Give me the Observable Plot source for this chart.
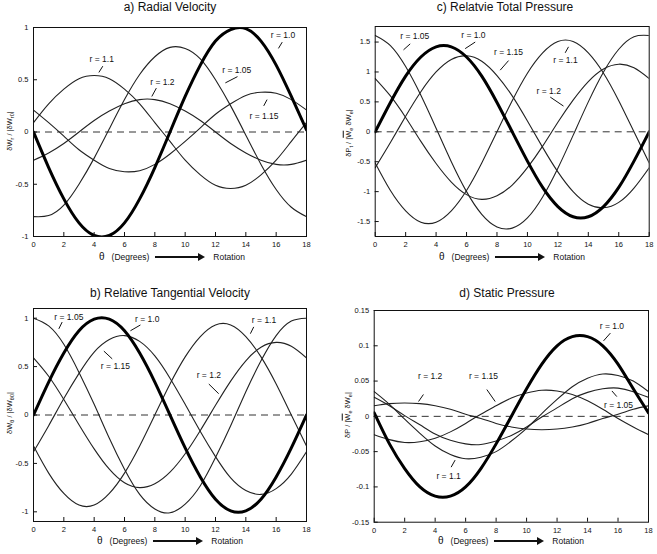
<!DOCTYPE html>
<html><head><meta charset="utf-8">
<script src="https://cdn.jsdelivr.net/npm/d3@7"></script>
<script src="https://cdn.jsdelivr.net/npm/@observablehq/plot@0.6"></script>
<style>
body{margin:0;background:#fff;}
#root{position:relative;width:657px;height:554px;font-family:"Liberation Sans",Arial,Helvetica,sans-serif;color:#111;overflow:hidden;background:#fff}
.title{position:absolute;font-size:12px;line-height:14px;white-space:nowrap;transform:translateX(-50%)}
.xlab{position:absolute;font-size:8.5px;line-height:10px;display:flex;align-items:center;transform:translate(-50%,-50%);white-space:nowrap}
.xlab .th{font-size:10px;margin-right:7px}
.arrow{display:inline-block;position:relative;width:44px;height:2px;background:#111;margin:0 14px 0 6px}
.arrow::after{content:"";position:absolute;right:-6px;top:-3px;border-left:7px solid #111;border-top:4px solid transparent;border-bottom:4px solid transparent}
.ylab{position:absolute;font-size:7.5px;white-space:nowrap;transform:translate(-50%,-50%) rotate(-90deg)}
.ylab sub{font-size:5.5px}
.panel{position:absolute}
</style></head><body><div id="root"></div>
<script>
// θ (degrees) sample positions
const THETA = [0,1,2,3,4,5,6,7,8,9,10,11,12,13,14,15,16,17,18];
const X_TICKS = [0,2,4,6,8,10,12,14,16,18];
const Y_TICKS_A = [-1,-0.5,0,0.5,1];
const Y_TICKS_B = [-1,-0.5,0,0.5,1];
const Y_TICKS_C = [-1.5,-1,-0.5,0,0.5,1,1.5];
const Y_TICKS_D = [-0.15,-0.1,-0.05,0,0.05,0.1,0.15];

// a) Radial Velocity
const RV_10  = [0,-0.34,-0.64,-0.87,-0.99,-0.99,-0.87,-0.64,-0.34,0,0.34,0.64,0.87,0.98,0.99,0.87,0.64,0.34,0.02];
const RV_105 = [-0.81,-0.80,-0.70,-0.50,-0.25,0.03,0.31,0.55,0.72,0.81,0.80,0.70,0.50,0.25,-0.03,-0.31,-0.55,-0.72,-0.81];
const RV_11  = [0.09,0.27,0.41,0.51,0.54,0.51,0.41,0.27,0.09,-0.09,-0.27,-0.41,-0.51,-0.54,-0.51,-0.41,-0.27,-0.09,0.09];
const RV_115 = [0.21,0.09,-0.04,-0.17,-0.27,-0.35,-0.38,-0.37,-0.31,-0.21,-0.09,0.04,0.17,0.27,0.35,0.38,0.37,0.31,0.21];
const RV_12  = [-0.27,-0.20,-0.11,0,0.11,0.20,0.27,0.31,0.31,0.27,0.20,0.11,0,-0.11,-0.20,-0.27,-0.31,-0.31,-0.27];

// b) Relative Tangential Velocity
const TV_10  = [0,0.34,0.64,0.87,0.99,0.99,0.87,0.64,0.34,0,-0.34,-0.64,-0.87,-0.99,-0.99,-0.87,-0.64,-0.34,0];
const TV_105 = [1.00,0.92,0.73,0.44,0.11,-0.24,-0.56,-0.82,-0.97,-1.01,-0.92,-0.73,-0.44,-0.11,0.24,0.56,0.82,0.97,1.00];
const TV_11  = [-0.32,-0.60,-0.81,-0.93,-0.93,-0.81,-0.60,-0.32,0,0.32,0.60,0.81,0.93,0.93,0.81,0.60,0.32,0,-0.32];
const TV_115 = [-0.38,-0.11,0.17,0.43,0.65,0.78,0.82,0.76,0.61,0.38,0.11,-0.17,-0.43,-0.65,-0.78,-0.82,-0.76,-0.61,-0.38];
const TV_12  = [0.59,0.40,0.16,-0.10,-0.35,-0.56,-0.70,-0.75,-0.71,-0.59,-0.40,-0.16,0.10,0.35,0.56,0.70,0.75,0.71,0.59];

// c) Relative Total Pressure
const PT_10  = [0,0.49,0.93,1.25,1.42,1.42,1.25,0.93,0.49,0,-0.49,-0.93,-1.25,-1.42,-1.42,-1.25,-0.93,-0.49,0];
const PT_105 = [1.61,1.44,1.09,0.61,0.06,-0.50,-1.00,-1.38,-1.59,-1.61,-1.44,-1.09,-0.61,-0.06,0.50,1.00,1.38,1.59,1.61];
const PT_11  = [-0.52,-0.98,-1.32,-1.51,-1.51,-1.32,-0.98,-0.52,0,0.52,0.98,1.32,1.51,1.51,1.32,0.98,0.52,0,-0.52];
const PT_115 = [-0.60,-0.18,0.26,0.67,1.00,1.21,1.27,1.18,0.94,0.60,0.18,-0.26,-0.67,-1.00,-1.21,-1.27,-1.18,-0.94,-0.60];
const PT_12  = [0.89,0.60,0.24,-0.16,-0.53,-0.84,-1.05,-1.13,-1.07,-0.89,-0.60,-0.24,0.16,0.53,0.84,1.05,1.13,1.07,0.89];

// d) Static Pressure
const PS_10  = [0.005,-0.039,-0.074,-0.100,-0.113,-0.113,-0.100,-0.074,-0.039,0,0.039,0.074,0.100,0.113,0.113,0.100,0.074,0.039,0.005];
const PS_105 = [0.027,0.015,0.001,-0.012,-0.025,-0.034,-0.039,-0.040,-0.035,-0.027,-0.015,-0.001,0.012,0.025,0.034,0.039,0.040,0.035,0.027];
const PS_11  = [0.035,0.017,-0.004,-0.024,-0.042,-0.054,-0.060,-0.058,-0.050,-0.035,-0.017,0.004,0.024,0.042,0.054,0.060,0.058,0.050,0.035];
const PS_115 = [-0.026,-0.033,-0.037,-0.036,-0.031,-0.022,-0.010,0.003,0.015,0.026,0.033,0.037,0.036,0.031,0.022,0.010,-0.003,-0.015,-0.026];
const PS_12  = [0.015,0.018,0.019,0.018,0.015,0.010,0.003,-0.003,-0.010,-0.015,-0.018,-0.019,-0.018,-0.015,-0.010,-0.003,0.003,0.010,0.015];

// curve labels (text position and pointer line, in data units)
const NOTES_A = [
 {r:"1.1",  tx:4.5,  ty:0.70, px1:4.57, py1:0.63, px2:4.31, py2:0.57},
 {r:"1.2",  tx:8.5,  ty:0.48, px1:8.1,  py1:0.42, px2:7.8,  py2:0.34},
 {r:"1.05", tx:13.4, ty:0.59, px1:13.45,py1:0.53, px2:12.65,py2:0.47},
 {r:"1.0",  tx:16.45,ty:0.93, px1:16.4, py1:0.86, px2:16.15,py2:0.80},
 {r:"1.15", tx:15.2, ty:0.15, px1:15.4, py1:0.31, px2:15.18,py2:0.25}
];
const NOTES_B = [
 {r:"1.05", tx:2.33, ty:1.01, px1:1.89, py1:0.96, px2:1.67, py2:0.89},
 {r:"1.0",  tx:7.5,  ty:0.99, px1:7.05, py1:0.93, px2:6.39, py2:0.87},
 {r:"1.15", tx:5.4,  ty:0.50, px1:5.19, py1:0.58, px2:4.64, py2:0.66},
 {r:"1.1",  tx:15.2, ty:0.98, px1:14.52,py1:0.91, px2:14.3, py2:0.84},
 {r:"1.2",  tx:11.56,ty:0.41, px1:11.56,py1:0.32, px2:12.21,py2:0.22}
];
const NOTES_C = [
 {r:"1.05", tx:2.6,  ty:1.59, px1:2.3,  py1:1.47, px2:1.86, py2:1.37},
 {r:"1.0",  tx:6.45, ty:1.62, px1:6.57, py1:1.50, px2:5.91, py2:1.39},
 {r:"1.15", tx:8.76, ty:1.33, px1:8.76, py1:1.19, px2:8.21, py2:1.03},
 {r:"1.1",  tx:12.5, ty:1.19, px1:12.7, py1:1.42, px2:12.48,py2:1.32},
 {r:"1.2",  tx:11.4, ty:0.68, px1:11.5, py1:0.58, px2:12.37,py2:0.43}
];
const NOTES_D = [
 {r:"1.2",  tx:3.67, ty:0.057, px1:3.23, py1:0.031, px2:2.91, py2:0.021},
 {r:"1.15", tx:7.17, ty:0.057, px1:7.39, py1:0.038, px2:7.94, py2:0.021},
 {r:"1.0",  tx:15.6, ty:0.127, px1:15.5, py1:0.118, px2:15.05,py2:0.107},
 {r:"1.05", tx:16.03,ty:0.016, px1:15.92,py1:0.028, px2:15.6, py2:0.036},
 {r:"1.1",  tx:4.88, ty:-0.085,px1:5.05, py1:-0.072,px2:5.31, py2:-0.062}
];

const FONT = '"Liberation Sans", Arial, Helvetica, sans-serif';

const panels = [
 {title:"a) Radial Velocity", left:0, top:0, width:328, height:275, mL:33, mR:22, mT:27, mB:39,
  yDomain:[-1,1], yTicks:Y_TICKS_A, notes:NOTES_A,
  series:[["1.0",RV_10],["1.05",RV_105],["1.1",RV_11],["1.15",RV_115],["1.2",RV_12]],
  titleX:170, titleY:0, ylabX:10, ylabY:131, xlabX:172, xlabY:257,
  ylab:'δW<sub>r</sub> / |δW<sub>r0</sub>|'},
 {title:"c) Relatvie Total Pressure", left:328, top:0, width:329, height:275, mL:46.7, mR:8.3, mT:26, mB:39,
  yDomain:[-1.75,1.76], yTicks:Y_TICKS_C, notes:NOTES_C,
  series:[["1.0",PT_10],["1.05",PT_105],["1.1",PT_11],["1.15",PT_115],["1.2",PT_12]],
  titleX:505, titleY:0, ylabX:349, ylabY:133, xlabX:512, xlabY:257,
  ylab:'δP<sub>t</sub> / |<span style="text-decoration:overline">W</span><sub>e</sub> δW<sub>e</sub>|'},
 {title:"b) Relative Tangential Velocity", left:0, top:277, width:328, height:277, mL:33, mR:22, mT:31, mB:33,
  yDomain:[-1.1,1.1], yTicks:Y_TICKS_B, notes:NOTES_B,
  series:[["1.0",TV_10],["1.05",TV_105],["1.1",TV_11],["1.15",TV_115],["1.2",TV_12]],
  titleX:170, titleY:286, ylabX:10, ylabY:413, xlabX:170, xlabY:541,
  ylab:'δW<sub>θ</sub> / |δW<sub>θ0</sub>|'},
 {title:"d) Static Pressure", left:328, top:277, width:329, height:277, mL:45.7, mR:9, mT:33, mB:32.3,
  yDomain:[-0.15,0.15], yTicks:Y_TICKS_D, notes:NOTES_D,
  series:[["1.0",PS_10],["1.05",PS_105],["1.1",PS_11],["1.15",PS_115],["1.2",PS_12]],
  titleX:507, titleY:286, ylabX:348, ylabY:415, xlabX:511, xlabY:541,
  ylab:'δP / |<span style="text-decoration:overline">W</span><sub>e</sub> δW<sub>e</sub>|'}
];

const root = document.getElementById("root");

for (const p of panels) {
  const rows = [];
  for (const [r, vals] of p.series) vals.forEach((v, i) => rows.push({theta: THETA[i], v, r}));
  const frameW = p.width - p.mL - p.mR, frameH = p.height - p.mT - p.mB;
  const svg = Plot.plot({
    width: p.width, height: p.height,
    marginLeft: p.mL, marginRight: p.mR, marginTop: p.mT, marginBottom: p.mB,
    style: {fontFamily: FONT, fontSize: "7.5px", color: "#111", background: "transparent", overflow: "visible"},
    x: {domain: [0, 18]},
    y: {domain: p.yDomain},
    marks: [
      Plot.ruleY([0], {stroke: "#333", strokeDasharray: "7,5", strokeWidth: 1}),
      Plot.line(rows.filter(d => d.r !== "1.0"), {x: "theta", y: "v", z: "r", curve: "natural", stroke: "#222", strokeWidth: 1.1, clip: true}),
      Plot.line(rows.filter(d => d.r === "1.0"), {x: "theta", y: "v", curve: "natural", stroke: "#000", strokeWidth: 3, clip: true}),
      Plot.link(p.notes, {x1: "px1", y1: "py1", x2: "px2", y2: "py2", stroke: "#111", strokeWidth: 1}),
      Plot.text(p.notes, {x: "tx", y: "ty", text: d => "r = " + d.r, fontSize: 8.5, fill: "#111"}),
      Plot.tickX(X_TICKS, {x: d => d, insetTop: frameH - 4, stroke: "#111"}),
      Plot.tickY(p.yTicks, {y: d => d, insetRight: frameW - 4, stroke: "#111"}),
      Plot.axisX({ticks: X_TICKS, tickSize: 0, tickPadding: 5, tickFormat: d => String(d), label: null}),
      Plot.axisY({ticks: p.yTicks, tickSize: 0, tickPadding: 5, tickFormat: d => String(d), label: null}),
      Plot.frame({stroke: "#111", strokeWidth: 1})
    ]
  });
  const wrap = document.createElement("div");
  wrap.className = "panel";
  wrap.style.left = p.left + "px";
  wrap.style.top = p.top + "px";
  wrap.appendChild(svg);
  root.appendChild(wrap);

  const t = document.createElement("div");
  t.className = "title";
  t.style.left = p.titleX + "px";
  t.style.top = p.titleY + "px";
  t.textContent = p.title;
  root.appendChild(t);

  const yl = document.createElement("div");
  yl.className = "ylab";
  yl.style.left = p.ylabX + "px";
  yl.style.top = p.ylabY + "px";
  yl.innerHTML = p.ylab;
  root.appendChild(yl);

  const xl = document.createElement("div");
  xl.className = "xlab";
  xl.style.left = p.xlabX + "px";
  xl.style.top = p.xlabY + "px";
  xl.innerHTML = '<span class="th">θ</span><span>(Degrees)</span><span class="arrow"></span><span>Rotation</span>';
  root.appendChild(xl);
}
</script></body></html>
